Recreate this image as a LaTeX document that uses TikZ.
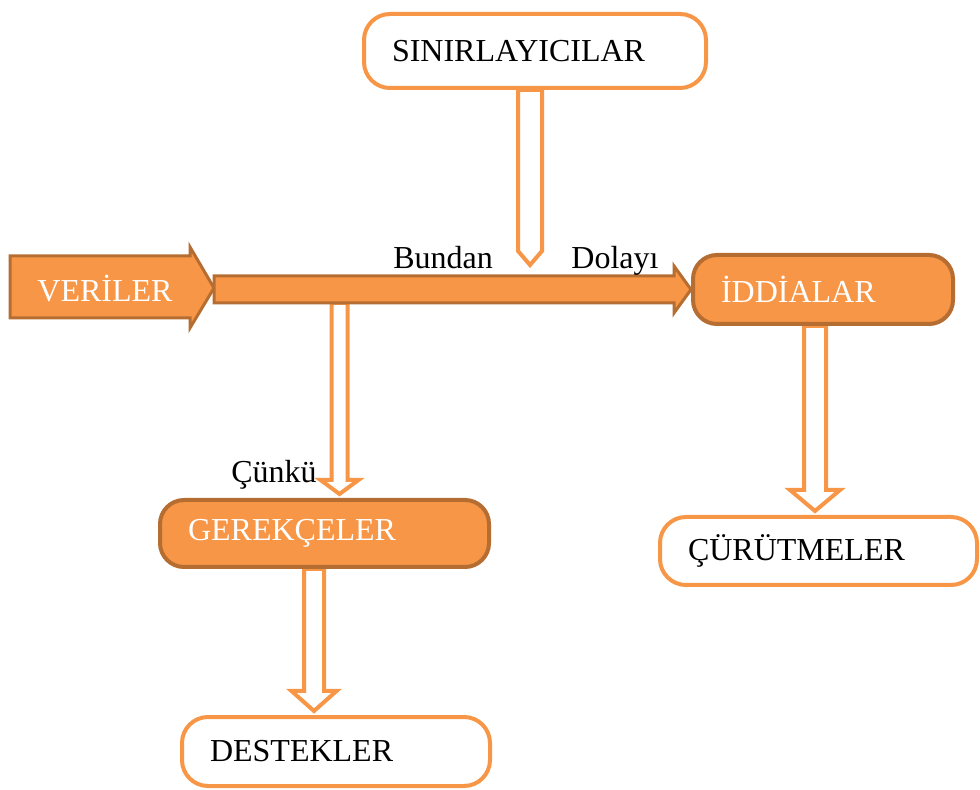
\documentclass[tikz,border=0pt]{standalone}
\usepackage{fontspec}
\setmainfont{Liberation Serif}
\usetikzlibrary{calc,backgrounds}
\definecolor{orng}{HTML}{F79646}
\definecolor{brwn}{HTML}{B66D31}
\tikzset{
  every node/.style={font=\fontsize{16}{19}\selectfont},
  whitebox/.style={draw=orng, line width=2pt, fill=white, rounded corners=13pt, align=left, inner xsep=14pt, text=black},
  orangebox/.style={draw=brwn, line width=2pt, fill=orng, rounded corners=12pt, align=left, inner xsep=14pt, text=white},
  hollow/.style={draw=orng, line width=2pt, fill=white, line join=miter},
  solidshape/.style={draw=brwn, line width=1.5pt, fill=orng, line join=miter},
  lbl/.style={inner sep=0pt, text=black}
}
\newcommand{\hollowdown}[5]{%
  \draw[hollow] let \p1=(#1), \p2=(#2) in
    (\x1-#3,\y1) -- (\x1-#3,\y2+#5) -- (\x1-#4,\y2+#5) -- (\x1,\y2) --
    (\x1+#4,\y2+#5) -- (\x1+#3,\y2+#5) -- (\x1+#3,\y1) -- cycle;}
\begin{document}
\begin{tikzpicture}[x=0.5pt,y=-0.5pt]
\useasboundingbox (0,0) rectangle (980,790);
% boxes
\node[whitebox, minimum width=171pt, minimum height=37pt, text width=143pt] (sin) at (535,51) {SINIRLAYICILAR};
\node[orangebox, minimum width=130pt, minimum height=34.5pt, text width=102pt] (idd) at (823,289.5) {İDDİALAR};
\node[whitebox, minimum width=158.5pt, minimum height=34pt, text width=130.5pt] (cur) at (818.5,551) {ÇÜRÜTMELER};
\node[orangebox, minimum width=164.5pt, minimum height=33.5pt, text width=136.5pt] (ger) at (324.5,533.5) {GEREKÇELER};
\node[whitebox, minimum width=154pt, minimum height=34.5pt, text width=126pt] (des) at (336,751.5) {DESTEKLER};
% VERILER arrow shape
\draw[solidshape] (10,256) -- (190,256) -- (190,247) -- (214,288) -- (190,328) -- (190,318) -- (10,318) -- cycle;
\node[text=white, anchor=west, inner sep=0pt] (ver) at (37,289) {VERİLER};
\coordinate (vtip) at (214,289.5);
% main bar
\draw[solidshape] let \p1=(vtip), \p2=(idd.west) in
  (\x1,\y2+6.75pt) -- (\x2-8.5pt,\y2+6.75pt) -- (\x2-8.5pt,\y2+11.75pt) -- (\x2,\y2) --
  (\x2-8.5pt,\y2-11.75pt) -- (\x2-8.5pt,\y2-6.75pt) -- (\x1,\y2-6.75pt) -- cycle;
% labels
\node[lbl, anchor=base west] (bundan) at (393,269) {Bundan};
\node[lbl, anchor=base west] (dolayi) at (571,269) {Dolayı};
\node[lbl, anchor=base west] (cunku) at (231,483) {Çünkü};
% hollow arrows
\coordinate (a1x) at (530,0);
\coordinate (a1tip) at (530,265);
\coordinate (a2top) at (339.5,303);
\coordinate (a3x) at (815,0);
\coordinate (a4x) at (314,0);
\begin{pgfonlayer}{background}
\hollowdown{sin.south -| a1x}{a1tip}{6pt}{6pt}{7pt}
\hollowdown{a2top}{$(ger.north -| a2top)+(0,-4)$}{4pt}{9.5pt}{7pt}
\hollowdown{idd.south -| a3x}{$(cur.north -| a3x)+(0,-4)$}{5.5pt}{12.5pt}{10.5pt}
\hollowdown{ger.south -| a4x}{$(des.north -| a4x)+(0,-4)$}{5pt}{11.25pt}{10pt}
\end{pgfonlayer}
\end{tikzpicture}
\end{document}
